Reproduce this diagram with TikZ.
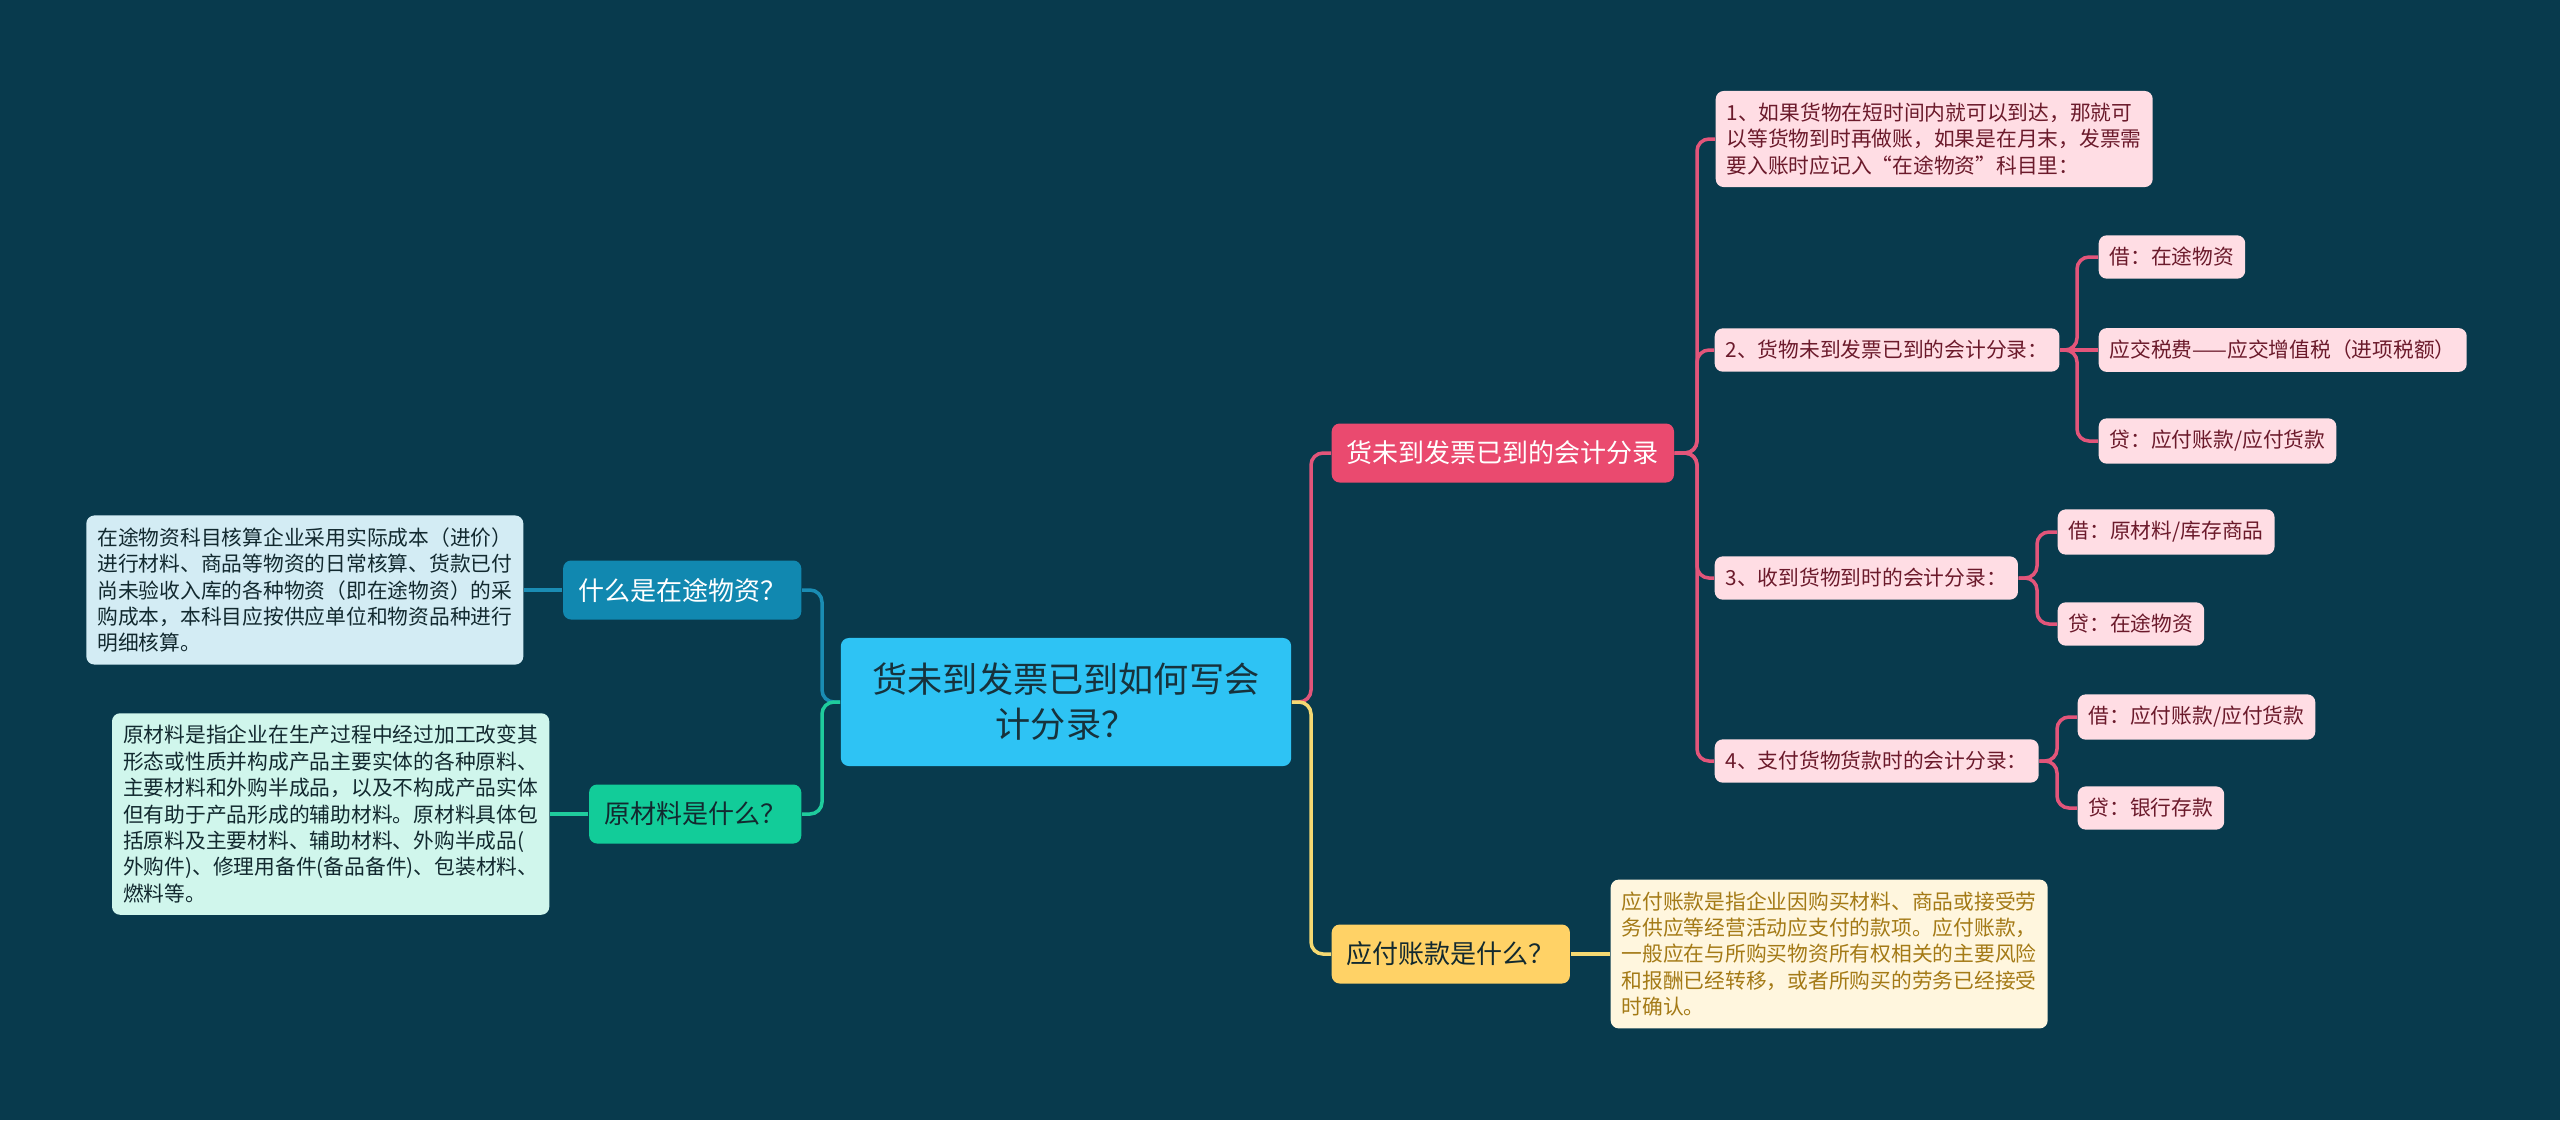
\documentclass[tikz,border=0pt]{standalone}
\usepackage{fontspec}
\setmainfont{Noto Sans CJK SC}
\usepackage{xcolor}
\usepackage{tikz}
\usetikzlibrary{positioning}

\definecolor{bgc}{HTML}{083A4D}
\definecolor{rootc}{HTML}{2EC3F4}
\definecolor{roott}{HTML}{17323C}
\definecolor{redc}{HTML}{EA4A6F}
\definecolor{yelc}{HTML}{FFD266}
\definecolor{bluc}{HTML}{1188B0}
\definecolor{grnc}{HTML}{12CC99}
\definecolor{pinkl}{HTML}{FFDDE4}
\definecolor{pinkt}{HTML}{6B1A2B}
\definecolor{yell}{HTML}{FFF6DE}
\definecolor{yelt}{HTML}{A47A16}
\definecolor{blul}{HTML}{D3ECF4}
\definecolor{grnl}{HTML}{D0F6EC}
\definecolor{darkt}{HTML}{12292F}
\definecolor{pinkln}{HTML}{E2557A}
\definecolor{yelln}{HTML}{F5D972}
\definecolor{bluln}{HTML}{1A8CB3}
\definecolor{grnln}{HTML}{1FCC9D}

\begin{document}
\begin{tikzpicture}[x=0.01cm,y=-0.01cm,
    rootbox/.style={fill=rootc, text=roott, rounded corners=0.08cm, align=center,
        minimum width=4.5cm, minimum height=1.28cm, font=\fontsize{10}{12.8}\selectfont},
    branch/.style={rounded corners=0.08cm, inner xsep=0.15cm, inner ysep=0cm,
        minimum height=0.59cm, font=\fontsize{7.4}{9}\selectfont},
    leaf/.style={rounded corners=0.08cm, inner xsep=0.11cm, inner ysep=0.12cm,
        align=left, font=\fontsize{5.9}{7.5}\selectfont},
    pinkleaf/.style={leaf, fill=pinkl, text=pinkt, anchor=west},
    link/.style={line width=1pt, rounded corners=0.12cm}]
    % Background
    \fill[bgc] (0,0) rectangle (2560,1120);

    % Root
    \node[rootbox] (root) at (1066,702) {货未到发票已到如何写会\\计分录？};

    % Branches
    \node[branch, fill=redc, text=white, anchor=west] (r1) at (1331,453) {货未到发票已到的会计分录};
    \node[branch, fill=yelc, text=darkt, anchor=west] (r2) at (1331,954) {应付账款是什么？};
    \node[branch, fill=bluc, text=white, anchor=east] (l1) at (802,590) {什么是在途物资？};
    \node[branch, fill=grnc, text=darkt, anchor=east] (l2) at (802,814) {原材料是什么？};

    % Entries under the first branch
    \node[pinkleaf] (c1) at (1715,139) {1、如果货物在短时间内就可以到达，那就可\\以等货物到时再做账，如果是在月末，发票需\\要入账时应记入“在途物资”科目里：};
    \node[pinkleaf] (c2) at (1714,350) {2、货物未到发票已到的会计分录：};
    \node[pinkleaf] (c21) at (2098,257) {借：在途物资};
    \node[pinkleaf] (c22) at (2098,350) {应交税费——应交增值税（进项税额）};
    \node[pinkleaf] (c23) at (2098,441) {贷：应付账款/应付货款};
    \node[pinkleaf] (c3) at (1714,578) {3、收到货物到时的会计分录：};
    \node[pinkleaf] (c31) at (2057,532) {借：原材料/库存商品};
    \node[pinkleaf] (c32) at (2057,624) {贷：在途物资};
    \node[pinkleaf] (c4) at (1714,761) {4、支付货物货款时的会计分录：};
    \node[pinkleaf] (c41) at (2077,717) {借：应付账款/应付货款};
    \node[pinkleaf] (c42) at (2077,808) {贷：银行存款};

    % Notes
    \node[leaf, fill=yell, text=yelt, anchor=west] (yl) at (1610,954) {应付账款是指企业因购买材料、商品或接受劳\\务供应等经营活动应支付的款项。应付账款，\\一般应在与所购买物资所有权相关的主要风险\\和报酬已经转移，或者所购买的劳务已经接受\\时确认。};
    \node[leaf, fill=blul, text=darkt, anchor=east] (bl) at (524,590) {在途物资科目核算企业采用实际成本（进价）\\进行材料、商品等物资的日常核算、货款已付\\尚未验收入库的各种物资（即在途物资）的采\\购成本，本科目应按供应单位和物资品种进行\\明细核算。};
    \node[leaf, fill=grnl, text=darkt, anchor=east] (gl) at (550,814) {原材料是指企业在生产过程中经过加工改变其\\形态或性质并构成产品主要实体的各种原料、\\主要材料和外购半成品，以及不构成产品实体\\但有助于产品形成的辅助材料。原材料具体包\\括原料及主要材料、辅助材料、外购半成品(\\外购件)、修理用备件(备品备件)、包装材料、\\燃料等。};

    % Trunks
    \coordinate (tR) at (1311,702);
    \coordinate (tL) at (822,702);
    \coordinate (t1) at (1697,453);
    \coordinate (t2) at (2077,350);
    \coordinate (t3) at (2037,578);
    \coordinate (t4) at (2057,761);

    % Connectors
    \draw[link, pinkln] (root.east) -- (tR) |- (r1.west);
    \draw[link, yelln] (root.east) -- (tR) |- (r2.west);
    \draw[link, bluln] (root.west) -- (tL) |- (l1.east);
    \draw[link, grnln] (root.west) -- (tL) |- (l2.east);
    \foreach \c in {c1,c2,c3,c4}
        \draw[link, pinkln] (r1.east) -- (t1) |- (\c.west);
    \foreach \c in {c21,c23}
        \draw[link, pinkln] (c2.east) -- (t2) |- (\c.west);
    \draw[link, pinkln] (c2.east) -- (c22.west);
    \foreach \c in {c31,c32}
        \draw[link, pinkln] (c3.east) -- (t3) |- (\c.west);
    \foreach \c in {c41,c42}
        \draw[link, pinkln] (c4.east) -- (t4) |- (\c.west);
    \draw[link, yelln] (r2.east) -- (yl.west);
    \draw[link, bluln] (l1.west) -- (bl.east);
    \draw[link, grnln] (l2.west) -- (gl.east);
\end{tikzpicture}
\end{document}
